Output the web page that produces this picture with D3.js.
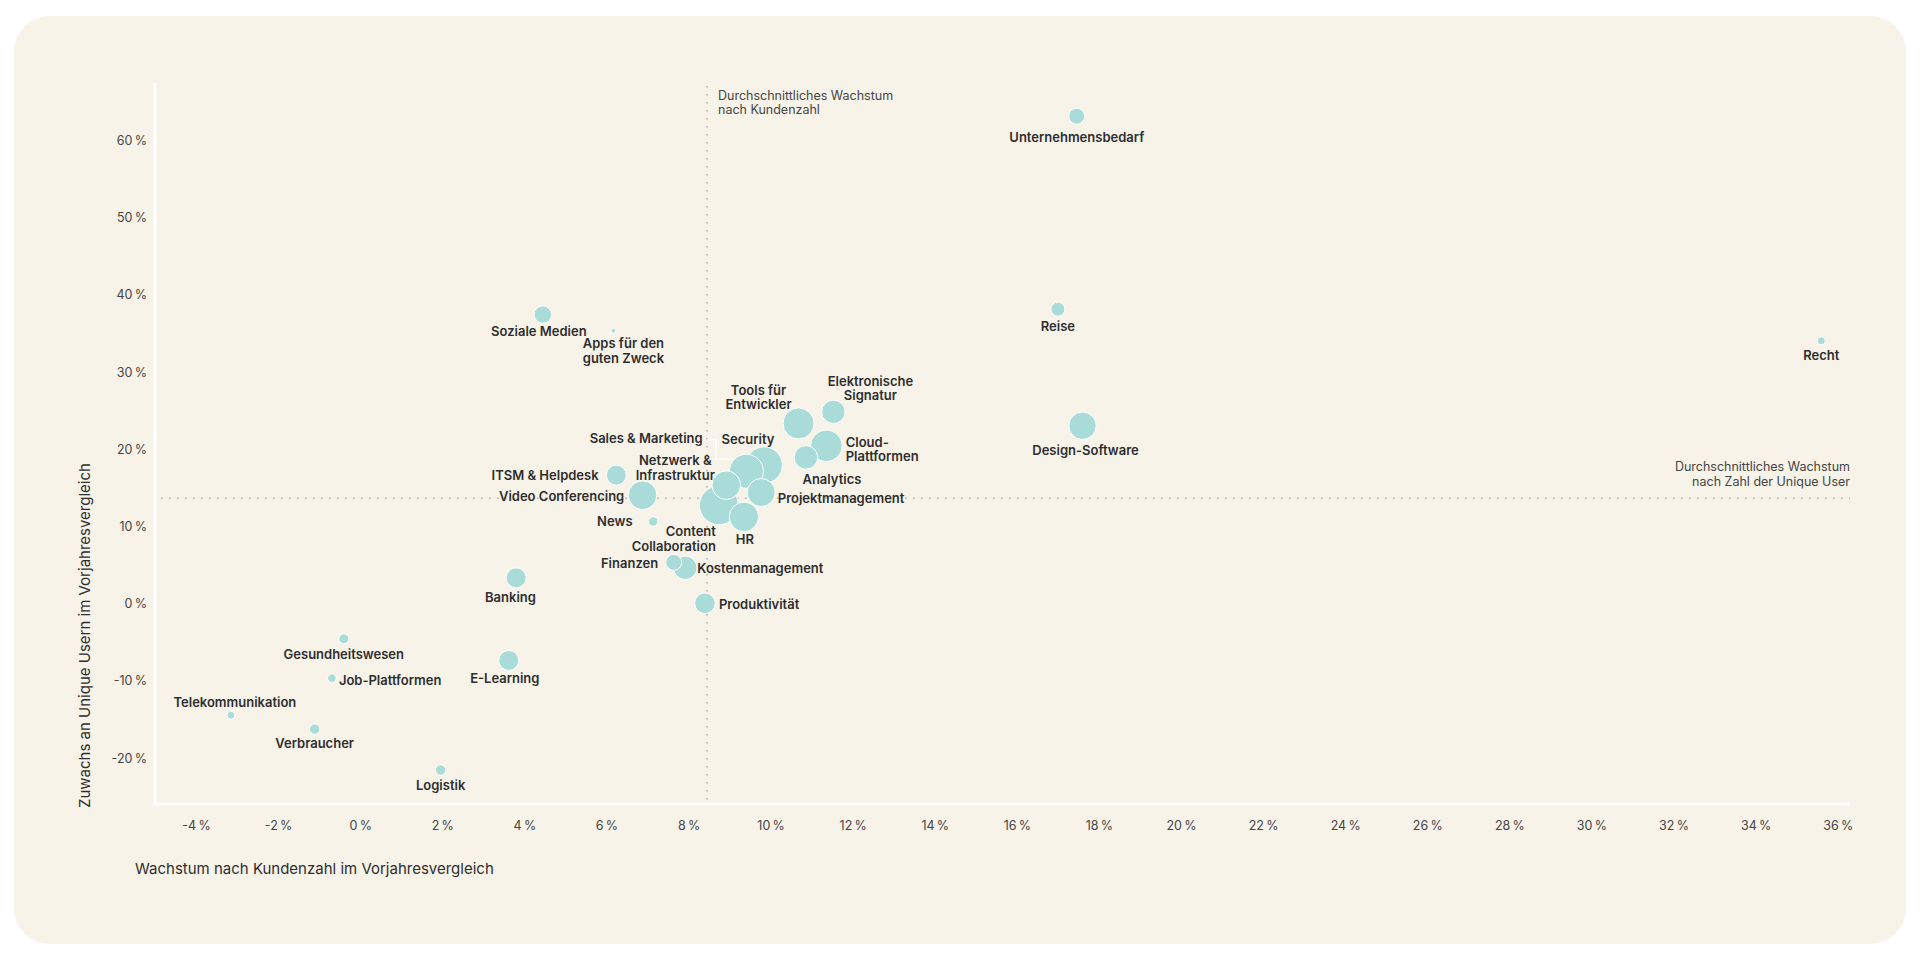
<!DOCTYPE html>
<html lang="de">
<head>
<meta charset="utf-8">
<script src="https://cdn.jsdelivr.net/npm/d3@7"></script>
<style>
  html, body { margin: 0; padding: 0; background: #ffffff; }
  svg { display: block; font-family: Inter, "Noto Sans", sans-serif; }
</style>
</head>
<body>
<svg id="chart" width="1920" height="960"></svg>
<script>
// ---------- DATA ----------
const industries = [
  "Unternehmensbedarf", "Reise", "Recht", "Design-Software", "Soziale Medien",
  "Apps für den guten Zweck", "Tools für Entwickler", "Elektronische Signatur",
  "Cloud-Plattformen", "Analytics", "Security", "Sales & Marketing",
  "Netzwerk & Infrastruktur", "Content Collaboration", "Projektmanagement", "HR",
  "ITSM & Helpdesk", "Video Conferencing", "News", "Finanzen", "Kostenmanagement",
  "Produktivität", "Banking", "E-Learning", "Gesundheitswesen", "Job-Plattformen",
  "Telekommunikation", "Verbraucher", "Logistik"
];
// Wachstum nach Kundenzahl im Vorjahresvergleich (%)
const customerGrowth = [
  17.46, 17.0, 35.6, 17.6, 4.45,
  6.17, 10.68, 11.53,
  11.36, 10.86, 9.84, 9.41,
  8.92, 8.74, 9.77, 9.35,
  6.24, 6.88, 7.14, 7.64, 7.92,
  8.40, 3.80, 3.62, -0.40, -0.69,
  -3.15, -1.11, 1.96
];
// Zuwachs an Unique Usern im Vorjahresvergleich (%)
const userGrowth = [
  63.1, 38.1, 34.0, 23.0, 37.4,
  35.3, 23.3, 24.8,
  20.4, 18.9, 17.9, 17.1,
  15.3, 12.7, 14.35, 11.2,
  16.6, 14.0, 10.6, 5.3, 4.6,
  0.0, 3.3, -7.4, -4.6, -9.7,
  -14.5, -16.3, -21.6
];
// relative bubble size (area)
const bubbleSize = [
  64, 49, 16, 188, 76,
  6, 240, 137,
  250, 139, 335, 289,
  204, 380, 196, 216,
  100, 204, 22, 64, 137,
  106, 100, 100, 25, 18,
  16, 27, 27
];
const avgCustomerGrowth = 8.45;
const avgUserGrowth = 13.6;
const xTickValues = [-4, -2, 0, 2, 4, 6, 8, 10, 12, 14, 16, 18, 20, 22, 24, 26, 28, 30, 32, 34, 36];
const yTickValues = [-20, -10, 0, 10, 20, 30, 40, 50, 60];
const xTitle = "Wachstum nach Kundenzahl im Vorjahresvergleich";
const yTitle = "Zuwachs an Unique Usern im Vorjahresvergleich";
const avgXLabel = ["Durchschnittliches Wachstum", "nach Kundenzahl"];
const avgYLabel = ["Durchschnittliches Wachstum", "nach Zahl der Unique User"];

// ---------- LABEL LAYOUT (offsets from bubble centre) ----------
const labelLayout = {
  "Unternehmensbedarf": {dx: 0, dy: 21, a: "middle"},
  "Reise": {dx: 0, dy: 17, a: "middle"},
  "Recht": {dx: 0, dy: 15, a: "middle"},
  "Design-Software": {dx: 3, dy: 25, a: "middle"},
  "Soziale Medien": {dx: -4, dy: 17, a: "middle"},
  "Apps für den guten Zweck": {dx: 10, dy: 13, a: "middle", lines: ["Apps für den", "guten Zweck"]},
  "Tools für Entwickler": {dx: -40, dy: -33, a: "middle", lines: ["Tools für", "Entwickler"]},
  "Elektronische Signatur": {dx: 37, dy: -30.6, a: "middle", lines: ["Elektronische", "Signatur"]},
  "Cloud-Plattformen": {dx: 19.3, dy: -3.4, a: "start", lines: ["Cloud-", "Plattformen"]},
  "Analytics": {dx: 26, dy: 22.4, a: "middle"},
  "Security": {dx: -16, dy: -26, a: "middle"},
  "Sales & Marketing": {dx: -43.7, dy: -32.7, a: "end",
    leader: [[-39.3, -31.7], [-30.3, -31.7], [-30.3, -12.4], [-12.7, -12.4]]},
  "Netzwerk & Infrastruktur": {dx: -51, dy: -24.7, a: "middle", lines: ["Netzwerk &", "Infrastruktur"]},
  "Content Collaboration": {dx: -3, dy: 26.6, a: "end", lines: ["Content", "Collaboration"]},
  "Projektmanagement": {dx: 16.6, dy: 5.6, a: "start"},
  "HR": {dx: 1, dy: 22.7, a: "middle"},
  "ITSM & Helpdesk": {dx: -17.7, dy: 0.7, a: "end"},
  "Video Conferencing": {dx: -18.3, dy: 1.3, a: "end"},
  "News": {dx: -20.7, dy: 0.3, a: "end"},
  "Finanzen": {dx: -15.6, dy: 1, a: "end"},
  "Kostenmanagement": {dx: 12, dy: 0.4, a: "start"},
  "Produktivität": {dx: 14, dy: 1.3, a: "start"},
  "Banking": {dx: -5.7, dy: 19.3, a: "middle"},
  "E-Learning": {dx: -4, dy: 18.3, a: "middle"},
  "Gesundheitswesen": {dx: 0, dy: 16, a: "middle"},
  "Job-Plattformen": {dx: 7, dy: 2.4, a: "start"},
  "Telekommunikation": {dx: 4, dy: -13, a: "middle"},
  "Verbraucher": {dx: 0, dy: 14.7, a: "middle"},
  "Logistik": {dx: 0, dy: 15.4, a: "middle"}
};

// ---------- CHART ----------
const svg = d3.select("#chart");
const BG = "#f7f3e9";
const BUBBLE = "#a9dbd8";
const TEXT = "#2e2e2e";
const MUTED = "#454545";

svg.append("rect")
  .attr("x", 14).attr("y", 16).attr("width", 1892).attr("height", 928)
  .attr("rx", 36).attr("ry", 36).attr("fill", BG);

const x = d3.scaleLinear().domain([-5, 36.3]).range([155, 1850]);
const y = d3.scaleLinear().domain([-26, 67.4]).range([804, 83]);
const r = d3.scaleSqrt().domain([0, 400]).range([0, 20]);

const data = industries.map((name, i) => ({
  name, cx: customerGrowth[i], uy: userGrowth[i], s: bubbleSize[i]
}));

// axes (labels only, no ticks)
const xAxis = svg.append("g")
  .attr("transform", `translate(0,${y.range()[0]})`)
  .call(d3.axisBottom(x).tickValues(xTickValues).tickSize(0)
    .tickFormat(d => `${d}\u202F%`));
xAxis.select(".domain").remove();
xAxis.selectAll("text")
  .attr("y", 22).attr("dy", "0.35em")
  .attr("fill", MUTED).attr("font-size", 12.5)
  .attr("font-family", "Inter, 'Noto Sans', sans-serif");

const yAxis = svg.append("g")
  .attr("transform", `translate(${x.range()[0]},0)`)
  .call(d3.axisLeft(y).tickValues(yTickValues).tickSize(0)
    .tickFormat(d => `${d}\u202F%`));
yAxis.select(".domain").remove();
yAxis.selectAll("text")
  .attr("x", -8).attr("dy", "0.35em")
  .attr("fill", MUTED).attr("font-size", 12.5)
  .attr("font-family", "Inter, 'Noto Sans', sans-serif");

// axis lines (white)
svg.append("line")
  .attr("x1", x.range()[0]).attr("x2", x.range()[0])
  .attr("y1", y.range()[1]).attr("y2", y.range()[0] + 1.5)
  .attr("stroke", "#ffffff").attr("stroke-width", 3);
svg.append("line")
  .attr("x1", x.range()[0] - 1.5).attr("x2", x.range()[1])
  .attr("y1", y.range()[0]).attr("y2", y.range()[0])
  .attr("stroke", "#ffffff").attr("stroke-width", 3);

// average reference lines
svg.append("line")
  .attr("x1", x(avgCustomerGrowth)).attr("x2", x(avgCustomerGrowth))
  .attr("y1", 86).attr("y2", y.range()[0] - 2)
  .attr("stroke", "#b3aea3").attr("stroke-width", 1.6)
  .attr("stroke-dasharray", "1.6 6.4");
svg.append("line")
  .attr("x1", x.range()[0] + 6).attr("x2", x.range()[1])
  .attr("y1", y(avgUserGrowth)).attr("y2", y(avgUserGrowth))
  .attr("stroke", "#b3aea3").attr("stroke-width", 1.6)
  .attr("stroke-dasharray", "1.6 6.4");

const refTxt1 = svg.append("text")
  .attr("x", x(avgCustomerGrowth) + 11).attr("y", 95.3)
  .attr("fill", MUTED).attr("font-size", 12.5);
avgXLabel.forEach((t, i) => refTxt1.append("tspan")
  .attr("x", x(avgCustomerGrowth) + 11).attr("dy", i === 0 ? "0.35em" : 14.5).text(t));

const refTxt2 = svg.append("text")
  .attr("x", x.range()[1]).attr("y", y(avgUserGrowth) - 31.5)
  .attr("text-anchor", "end")
  .attr("fill", MUTED).attr("font-size", 12.5);
avgYLabel.forEach((t, i) => refTxt2.append("tspan")
  .attr("x", x.range()[1]).attr("dy", i === 0 ? "0.35em" : 15).text(t));

// axis titles
svg.append("text")
  .attr("x", 135).attr("y", 869).attr("dy", "0.35em")
  .attr("fill", TEXT).attr("font-size", 15).text(xTitle);
svg.append("text")
  .attr("transform", `translate(85,808) rotate(-90)`)
  .attr("dy", "0.35em")
  .attr("fill", TEXT).attr("font-size", 15).text(yTitle);

// bubbles
const sorted = data.slice().sort((a, b) => b.s - a.s);
svg.append("g").selectAll("circle").data(sorted).join("circle")
  .attr("cx", d => x(d.cx)).attr("cy", d => y(d.uy))
  .attr("r", d => r(d.s))
  .attr("fill", BUBBLE).attr("stroke", "#ffffff").attr("stroke-width", 1);

// leader lines
data.forEach(d => {
  const L = labelLayout[d.name];
  if (L && L.leader) {
    svg.append("polyline")
      .attr("points", L.leader.map(p => `${x(d.cx) + p[0]},${y(d.uy) + p[1]}`).join(" "))
      .attr("fill", "none").attr("stroke", "#ffffff").attr("stroke-width", 1.5);
  }
});

// labels
const lg = svg.append("g")
  .attr("font-size", 13).attr("font-weight", 600).attr("fill", TEXT);
data.forEach(d => {
  const L = labelLayout[d.name] || {dx: 0, dy: 15, a: "middle"};
  const lines = L.lines || [d.name];
  const lx = x(d.cx) + L.dx;
  const t = lg.append("text")
    .attr("x", lx).attr("y", y(d.uy) + L.dy)
    .attr("text-anchor", L.a);
  lines.forEach((ln, i) => t.append("tspan")
    .attr("x", lx).attr("dy", i === 0 ? "0.35em" : 14.5).text(ln));
});
</script>
</body>
</html>
